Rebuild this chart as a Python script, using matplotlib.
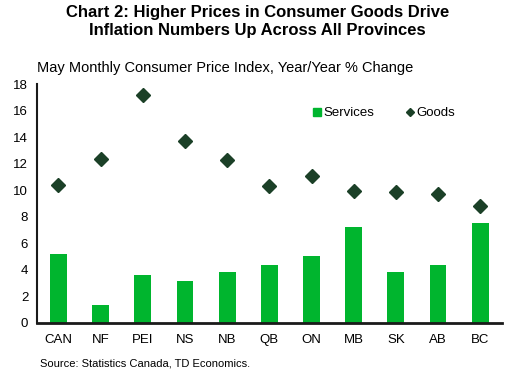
import matplotlib
matplotlib.use('Agg')
import matplotlib.pyplot as plt
from matplotlib.lines import Line2D
import numpy as np

plt.rcParams['font.family'] = ['Liberation Sans', 'DejaVu Sans']

# data
provinces = ['CAN', 'NF', 'PEI', 'NS', 'NB', 'QB', 'ON', 'MB', 'SK', 'AB', 'BC']
services = [5.2, 1.3, 3.6, 3.15, 3.8, 4.35, 5.05, 7.25, 3.8, 4.35, 7.55]
goods = [10.4, 12.4, 17.2, 13.7, 12.3, 10.35, 11.1, 9.95, 9.9, 9.75, 8.85]

BAR_GREEN = '#00B52E'
DIAMOND = '#1B4027'
AXIS = '#1a1a1a'

fig = plt.figure(figsize=(5.15, 3.84), dpi=100)
ax = fig.add_axes([0.071, 0.16, 0.904, 0.62])

x = np.arange(len(provinces))
ax.bar(x, services, width=0.4, color=BAR_GREEN, zorder=2)
ax.plot(x, goods, linestyle='none', marker='D', markersize=7,
        color=DIAMOND, zorder=3)

ax.set_xlim(-0.52, len(provinces) - 0.48)
ax.set_ylim(0, 18)
ax.set_yticks(range(0, 19, 2))
ax.set_xticks(x)
ax.set_xticklabels(provinces)
ax.tick_params(axis='both', length=0, labelsize=9.5, colors='black')
ax.tick_params(axis='x', pad=8)
ax.tick_params(axis='y', pad=6)

for side in ['top', 'right']:
    ax.spines[side].set_visible(False)
ax.spines['left'].set_color(AXIS)
ax.spines['left'].set_linewidth(1.5)
ax.spines['bottom'].set_color(AXIS)
ax.spines['bottom'].set_linewidth(2)

# legend: Services first, then Goods
handles = [
    Line2D([], [], linestyle='none', marker='s', markersize=6, color=BAR_GREEN),
    Line2D([], [], linestyle='none', marker='D', markersize=4, color=DIAMOND),
]
ax.legend(handles, ['Services', 'Goods'], loc='center left',
          bbox_to_anchor=(0.58, 0.88), ncol=2, frameon=False, fontsize=9.5,
          handlelength=0.6, handletextpad=0.2, columnspacing=2.4, borderpad=0)

fig.text(0.5, 0.988, 'Chart 2: Higher Prices in Consumer Goods Drive\nInflation Numbers Up Across All Provinces',
         ha='center', va='top', fontsize=12, fontweight='bold', linespacing=1.25)
fig.text(0.071, 0.822, 'May Monthly Consumer Price Index, Year/Year % Change',
         ha='left', va='center', fontsize=10.5)
fig.text(0.078, 0.054, 'Source: Statistics Canada, TD Economics.',
         ha='left', va='center', fontsize=8)

fig.savefig('out.png', dpi=100, facecolor='white')
